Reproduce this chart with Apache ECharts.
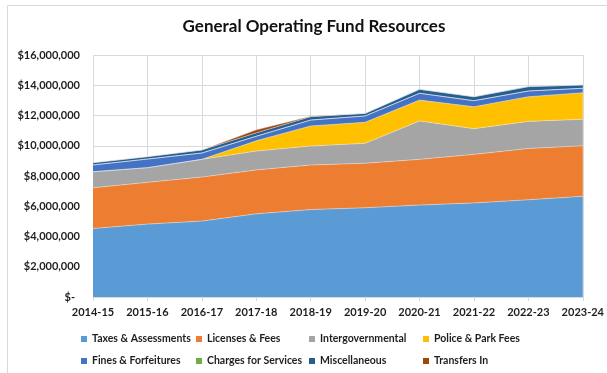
<!DOCTYPE html>
<html>
<head>
<meta charset="utf-8">
<script src="https://cdn.jsdelivr.net/npm/echarts@6/dist/echarts.min.js"></script>
<style>
  html, body { margin: 0; padding: 0; background: #fff; }
  #chart { width: 607px; height: 373px; }
</style>
</head>
<body>
<div id="chart"></div>
<script>
// Fiscal years on the category axis
const years = ['2014-15', '2015-16', '2016-17', '2017-18', '2018-19',
               '2019-20', '2020-21', '2021-22', '2022-23', '2023-24'];

// Resource amounts by source, in dollars
const taxesAssessments = [4530000, 4820000, 5020000, 5500000, 5780000, 5900000, 6080000, 6220000, 6430000, 6660000];
const licensesFees     = [2690000, 2760000, 2910000, 2900000, 2950000, 2940000, 3020000, 3210000, 3390000, 3340000];
const intergovernmental = [1060000, 970000, 1170000, 1250000, 1250000, 1320000, 2540000, 1700000, 1790000, 1750000];
const policeParkFees   = [0, 0, 0, 680000, 1330000, 1390000, 1380000, 1450000, 1630000, 1760000];
const finesForfeitures = [450000, 570000, 420000, 300000, 390000, 420000, 450000, 400000, 380000, 290000];
const chargesServices  = [0, 0, 0, 0, 0, 0, 0, 0, 0, 0];
const miscellaneous    = [150000, 160000, 200000, 220000, 220000, 170000, 260000, 260000, 290000, 220000];
const transfersIn      = [0, 0, 0, 200000, 30000, 0, 0, 0, 0, 0];

// Value axis ticks
const yMin = 0, yMax = 16000000, yStep = 2000000;

const seriesDefs = [
  { name: 'Taxes & Assessments', data: taxesAssessments, color: '#5B9BD5' },
  { name: 'Licenses & Fees', data: licensesFees, color: '#ED7D31' },
  { name: 'Intergovernmental', data: intergovernmental, color: '#A5A5A5' },
  { name: 'Police & Park Fees', data: policeParkFees, color: '#FFC000' },
  { name: 'Fines & Forfeitures', data: finesForfeitures, color: '#4472C4' },
  { name: 'Charges for Services', data: chargesServices, color: '#70AD47' },
  { name: 'Miscellaneous', data: miscellaneous, color: '#255E91' },
  { name: 'Transfers In', data: transfersIn, color: '#9E480E' }
];

// Legend grid: four columns, two rows
const legendCols = [81, 196, 309, 423];
const legendRows = [333, 355];

const FONT = 'Lato, "Open Sans", sans-serif';
const TEXT = '#1e1e1e';

const chart = echarts.init(document.getElementById('chart'), null, { renderer: 'canvas' });

const legends = seriesDefs.map((s, i) => ({
  data: [s.name],
  left: legendCols[i % 4],
  top: legendRows[Math.floor(i / 4)],
  icon: 'rect',
  itemWidth: 6,
  itemHeight: 6,
  selectedMode: false,
  padding: 0,
  textStyle: { fontFamily: FONT, fontWeight: 'bold', fontSize: 10.5, color: TEXT, lineHeight: 12 }
}));

chart.setOption({
  animation: false,
  backgroundColor: '#fff',
  graphic: [
    { type: 'line', shape: { x1: 7.5, y1: 5.5, x2: 607, y2: 5.5 }, style: { stroke: '#d9d9d9', lineWidth: 1 }, silent: true },
    { type: 'line', shape: { x1: 7.5, y1: 5.5, x2: 7.5, y2: 373 }, style: { stroke: '#d9d9d9', lineWidth: 1 }, silent: true },
    {
      type: 'text', x: 314, y: 27,
      style: {
        text: 'General Operating Fund Resources',
        fontFamily: FONT, fontWeight: 'bold', fontSize: 17, fill: '#111',
        textAlign: 'center', textVerticalAlign: 'middle'
      }
    }
  ],
  legend: legends,
  grid: { left: 93, right: 20, top: 55, bottom: 76, containLabel: false },
  xAxis: {
    type: 'category',
    data: years,
    boundaryGap: false,
    axisLine: { show: true, lineStyle: { color: '#d9d9d9', width: 1 } },
    axisTick: { show: true, alignWithLabel: true, interval: 0, length: 4, lineStyle: { color: '#d9d9d9' } },
    splitLine: { show: true, interval: 0, lineStyle: { color: '#d9d9d9', width: 1 } },
    axisLabel: { interval: 0, fontFamily: FONT, fontWeight: 'bold', fontSize: 11, color: TEXT, margin: 10 }
  },
  yAxis: {
    type: 'value',
    min: yMin, max: yMax, interval: yStep,
    axisLine: { show: false },
    axisTick: { show: false },
    splitLine: { show: true, lineStyle: { color: '#d9d9d9', width: 1 } },
    axisLabel: {
      fontFamily: FONT, fontWeight: 'bold', fontSize: 11, color: TEXT, margin: 13,
      formatter: v => v === 0 ? '{z|$-}' : '$' + v.toLocaleString('en-US'),
      rich: { z: { fontFamily: FONT, fontWeight: 'bold', fontSize: 11, color: TEXT, padding: [0, 5, 0, 0] } }
    }
  },
  series: seriesDefs.map(s => ({
    name: s.name,
    type: 'line',
    stack: 'total',
    data: s.data,
    symbol: 'none',
    color: s.color,
    lineStyle: { width: 0.6, color: 'rgba(235,235,235,0.8)' },
    areaStyle: { color: s.color, opacity: 1 },
    emphasis: { disabled: true }
  }))
});
</script>
</body>
</html>
